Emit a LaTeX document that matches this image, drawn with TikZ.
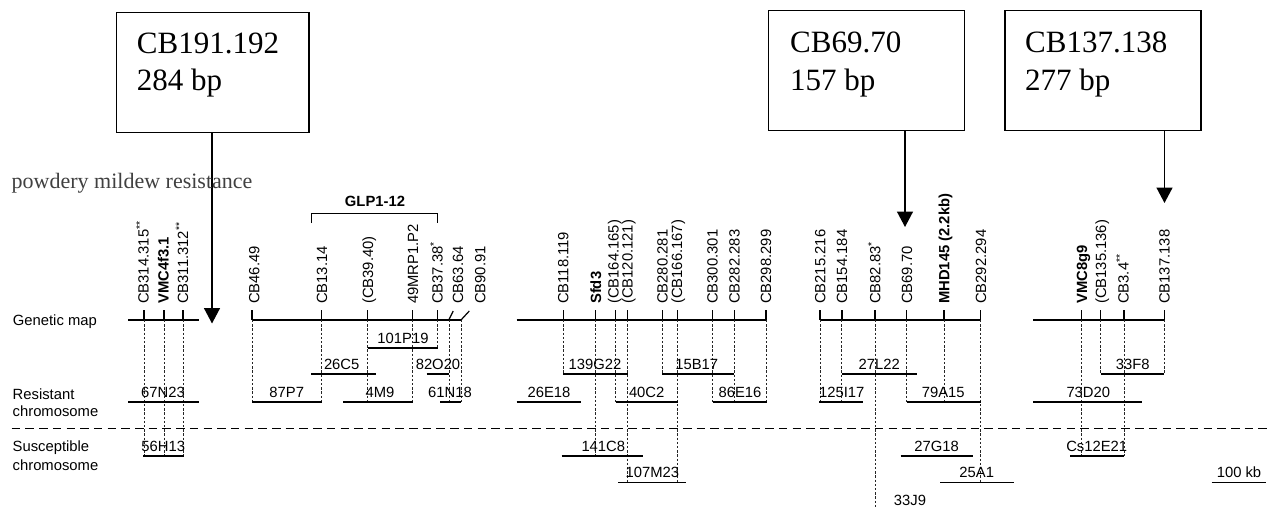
\documentclass[tikz,border=0pt]{standalone}
\usepackage{fontspec}
\setmainfont{Liberation Sans}
\newfontfamily\serifTNR{Liberation Serif}
\usetikzlibrary{arrows.meta}
\begin{document}
\begin{tikzpicture}[x=1pt,y=-1pt,
  lab/.style={font=\fontsize{14.8}{16}\selectfont, inner sep=0pt},
  vlab/.style={lab, rotate=90, anchor=west, text height=10.6pt, text depth=0pt},
  gmap/.style={line width=1.3pt},
  tk/.style={line width=1.2pt},
  guide/.style={line width=0.7pt, black!85, dash pattern=on 2.4pt off 1.8pt},
  clone/.style={line width=1.1pt},
  sepline/.style={line width=1.2pt, dash pattern=on 8.5pt off 5.2pt},
  mbox/.style={draw, line width=1.5pt, inner sep=0pt, anchor=north west},
  boxtxt/.style={font=\serifTNR\fontsize{31}{37.5}\selectfont, align=left, inner sep=0pt, anchor=north west},
  arr/.style={line width=1.5pt, -{Triangle[width=16pt,length=15.5pt]}},
]
\useasboundingbox (0,0) rectangle (1272,508);

% callout boxes
\node[mbox, minimum width=192.3pt, minimum height=120.3pt] (b1) at (115.7,11.7) {};
\node[boxtxt] (b1t) at (136.7,32.3) {CB191.192\\284 bp};
\node[mbox, minimum width=196pt, minimum height=120pt] (b2) at (767.7,10) {};
\node[boxtxt] (b2t) at (790,31.7) {CB69.70\\157 bp};
\node[mbox, minimum width=196pt, minimum height=120pt] (b3) at (1004,10) {};
\node[boxtxt] (b3t) at (1025,31.7) {CB137.138\\277 bp};

\coordinate (t1) at (212,323.5);
\coordinate (t2) at (905,227);
\coordinate (t3) at (1164.5,203);
\draw[arr] (b1.south -| t1) -- (t1);
\draw[arr] (b2.south -| t2) -- (t2);
\draw[arr] (b3.south -| t3) -- (t3);

% title
\node[font=\serifTNR\fontsize{22}{26}\selectfont, text=black!75, anchor=base west, inner sep=0pt] (title) at (11.5,189) {powdery mildew resistance};

% left labels
\node[lab, anchor=base west] (gm) at (12.7,325.5) {Genetic map};
\node[lab, anchor=base west] (r1) at (12.5,399) {Resistant};
\node[lab, anchor=base west] (r2) at (12.5,416.5) {chromosome};
\node[lab, anchor=base west] (s1) at (12.5,451.5) {Susceptible};
\node[lab, anchor=base west] (s2) at (12.5,470) {chromosome};

% genetic map lines
\draw[gmap] (128,320) -- (199.3,320);
\draw[gmap] (252,320) -- (461,320);
\draw[gmap] (516.7,320) -- (766,320);
\draw[gmap] (820,320) -- (980.7,320);
\draw[gmap] (1033,320) -- (1164.3,320);

% ticks
\foreach \x in {144,164,183,252,321.7,367.7,412.7,437.7,563.3,595.7,615.7,627.5,662.3,677.7,712.3,734.3,766,820,875,906.7,944,980.7,1081.7,1100.7,1124,1164.3}
  \draw[tk] (\x,310) -- (\x,320);
\draw[line width=2.4pt] (841.7,310) -- (841.7,320);
\draw[tk] (448.8,320) -- (453.2,311);
\draw[tk] (461,320) -- (469.3,311);

% dashed guides
\foreach \x/\e in {144/456,164/456,183/456,
  252/402,321.7/402,367.7/402,412.7/402,437.7/348,449.3/402,461/402,
  563.3/374,595.7/456,615.7/402,627.5/482.3,662.3/374,677.7/482.3,712.3/402,734.3/402,766/402,
  820/402,841.7/402,875/508,906.7/402,944/402,980.7/482.3,
  1081.7/456,1100.7/374,1124/456,1164.3/374}
  \draw[guide] (\x,320) -- (\x,\e);

% marker labels
\foreach \x/\t [count=\i] in {143.3/{CB314.315\textsuperscript{**}},163.3/{\textbf{VMC4f3.1}},182.7/{CB311.312\textsuperscript{**}},
  254/{CB46.49},321.7/{CB13.14},367.7/{(CB39.40)},412.7/{49MRP1.P2},437.3/{CB37.38\textsuperscript{*}},457.7/{CB63.64},480/{CB90.91},
  563/{CB118.119},595.7/{\textbf{Sfd3}},613.3/{(CB164.165)},627.3/{(CB120.121)},662.3/{CB280.281},676.7/{(CB166.167)},712.3/{CB300.301},734.3/{CB282.283},765.7/{CB298.299},
  820/{CB215.216},841.7/{CB154.184},875/{CB82.83\textsuperscript{*}},906.7/{CB69.70},944/{\textbf{MHD145 (2.2kb)}},980.7/{CB292.294},
  1081.7/{\textbf{VMC8g9}},1100.7/{(CB135.136)},1123.3/{CB3.4\textsuperscript{**}},1164.3/{CB137.138}}
  \node[vlab] (m\i) at (\x,304) {\t};

% GLP bracket
\draw[tk] (311.7,223) -- (311.7,213.3) -- (437.7,213.3) -- (437.7,223);
\node[lab, anchor=base, font=\fontsize{14.8}{16}\selectfont\bfseries] (glp) at (375,206.5) {GLP1-12};

% clone bars
\foreach \y/\a/\b/\c/\t [count=\i] in {
  348/367.7/437.7/403/101P19,
  374/311/375.7/341.7/26C5, 374/426.7/449.3/438/82O20, 374/563.3/627.7/595/139G22,
  374/662.3/734.3/696.7/15B17, 374/841.7/917.3/879.3/27L22, 374/1100.7/1164.3/1132.7/33F8,
  402/128/199.3/163/67N23, 402/252/321.7/286.7/87P7, 402/343/412.7/380/4M9, 402/440/461/450/61N18,
  402/516.7/581/549/26E18, 402/616/677.7/646.7/40C2, 402/712.7/766.7/740/86E16,
  402/819.3/863.3/841.7/125I17, 402/906.7/980.7/943.3/79A15, 402/1033.3/1141.7/1088.3/73D20,
  456/143.3/184.3/163.3/56H13, 456/561.7/643.3/603.3/141C8, 456/900.7/973.3/936.7/27G18, 456/1070/1124/1096.7/Cs12E21,
  482.3/618.3/685.7/652.3/107M23, 482.3/940/1014/976.7/25A1, 482.3/1211.7/1266/1239/{100 kb}}
{
  \draw[clone] (\a,\y) -- (\b,\y);
  \node[lab, anchor=base] (c\i) at (\c,\y-5) {\t};
}
\node[lab, anchor=base] (c33J9) at (910,505) {33J9};

% separator
\draw[sepline] (11.7,428.3) -- (1272,428.3);
\end{tikzpicture}
\end{document}
